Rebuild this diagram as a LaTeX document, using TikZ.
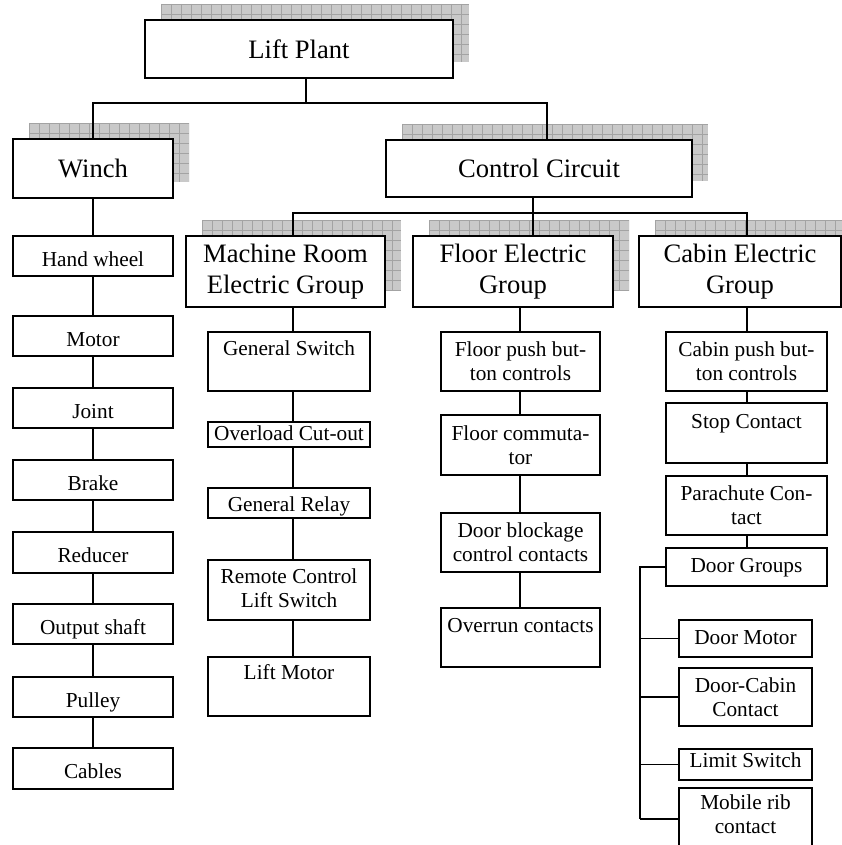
\documentclass[tikz,border=0pt]{standalone}
\usepackage{fontspec}
\setmainfont{Liberation Serif}
\usetikzlibrary{calc}

\pgfdeclarelayer{paper}
\pgfdeclarelayer{shadow}
\pgfdeclarelayer{lines}
\pgfsetlayers{paper,shadow,lines,main}

% hatched drop shadow: grey fill crossed by a 10pt grid
\newcommand\shadowgrid[4]{%
  \pgfmathsetmacro\sgxa{#1}\pgfmathsetmacro\sgya{#2}%
  \pgfmathsetmacro\sgxb{#3}\pgfmathsetmacro\sgyb{#4}%
  \pgfmathsetmacro\sgxn{\sgxa+10}\pgfmathsetmacro\sgyn{\sgya+10}%
  \begin{scope}
    \clip (\sgxa,\sgya) rectangle (\sgxb,\sgyb);
    \fill[shadowfill] (\sgxa,\sgya) rectangle (\sgxb,\sgyb);
    \foreach \gx in {\sgxa,\sgxn,...,\sgxb} \draw[shadowline] (\gx,\sgya) -- (\gx,\sgyb);
    \foreach \gy in {\sgya,\sgyn,...,\sgyb} \draw[shadowline] (\sgxa,\gy) -- (\sgxb,\gy);
  \end{scope}}

% heading box with shadow: name, x1, y1, x2, y2, text
\newcommand\headbox[6]{%
  \node[headstyle, minimum width={(#4)-(#2)}, minimum height={(#5)-(#3)}]
    (#1) at ({((#2)+(#4))/2},{((#3)+(#5))/2}) {#6};
  \begin{pgfonlayer}{shadow}\shadowgrid{#2+16}{#3-16}{#4+16}{#5-16}\end{pgfonlayer}}

% component box: name, x1, y1, x2, y2, first baseline, text
\newcommand\partbox[7]{%
  \node[partstyle, minimum width={(#4)-(#2)}, minimum height={(#5)-(#3)}]
    (#1) at ({((#2)+(#4))/2},{((#3)+(#5))/2}) {};
  \node[partlabel] (#1-label) at ({((#2)+(#4))/2},{(#6)-16.8}) {\strut #7};}

\begin{document}
\begin{tikzpicture}[x=1pt,y=-1pt,
  shadowfill/.style={fill=black!21},
  shadowline/.style={draw=black!36, line width=0.8pt},
  headstyle/.style={draw=black, line width=1.6pt, fill=white, inner sep=0pt,
    align=center, font=\fontsize{26.6}{31}\selectfont},
  partstyle/.style={draw=black, line width=1.6pt, fill=white, inner sep=0pt},
  partlabel/.style={inner sep=0pt, anchor=north, align=center,
    font=\fontsize{21.3}{24}\selectfont},
  link/.style={draw=black, line width=1.7pt}]

\begin{pgfonlayer}{paper}
  \fill[white] (0,0) rectangle (842,845);
\end{pgfonlayer}
\useasboundingbox (0,0) rectangle (842,845);
\clip (0,0) rectangle (842,845);

% top levels
\headbox{lp}{145}{20}{453}{78}{Lift Plant}
\headbox{winch}{13}{139}{173}{198}{Winch}
\headbox{cc}{386}{140}{692}{197}{Control Circuit}
\headbox{mr}{186}{236}{385}{307}{Machine Room\\Electric Group}
\headbox{feg}{413}{236}{613}{307}{Floor Electric\\Group}
\headbox{ceg}{639}{236}{841}{307}{Cabin Electric\\Group}

% winch parts
\partbox{hw}{13}{236}{173}{276}{266}{Hand wheel}
\partbox{motor}{13}{316}{173}{356}{346}{Motor}
\partbox{joint}{13}{388}{173}{428}{418}{Joint}
\partbox{brake}{13}{460}{173}{500}{490}{Brake}
\partbox{red}{13}{532}{173}{573}{562}{Reducer}
\partbox{os}{13}{604}{173}{644}{634}{Output shaft}
\partbox{pul}{13}{677}{173}{717}{707}{Pulley}
\partbox{cab}{13}{748}{173}{789}{778}{Cables}

% machine room group
\partbox{gs}{208}{332}{370}{391}{355}{General Switch}
\partbox{oc}{208}{422}{370}{447}{440}{Overload Cut-out}
\partbox{gr}{208}{488}{370}{518}{511}{General Relay}
\partbox{rc}{208}{560}{370}{620}{583}{Remote Control\\Lift Switch}
\partbox{lm}{208}{657}{370}{716}{679}{Lift Motor}

% floor group
\partbox{fp}{441}{332}{600}{391}{356}{Floor push but-\\ton controls}
\partbox{fc}{441}{415}{600}{475}{440}{Floor commuta-\\tor}
\partbox{db}{441}{513}{600}{572}{537}{Door blockage\\control contacts}
\partbox{ovr}{441}{608}{600}{667}{632}{Overrun contacts}

% cabin group
\partbox{cp}{666}{332}{827}{391}{356}{Cabin push but-\\ton controls}
\partbox{sc}{666}{403}{827}{463}{428}{Stop Contact}
\partbox{pc}{666}{476}{827}{535}{500}{Parachute Con-\\tact}
\partbox{dg}{666}{548}{827}{586}{572}{Door Groups}
\partbox{dm}{679}{620}{812}{657}{644}{Door Motor}
\partbox{dc}{679}{668}{812}{726}{692}{Door-Cabin\\Contact}
\partbox{ls}{679}{749}{812}{780}{767}{Limit Switch}
\partbox{mrib}{679}{788}{812}{850}{809}{Mobile rib\\contact}

\begin{pgfonlayer}{lines}
  \coordinate (top) at (306,103);
  \coordinate (ccin) at (547,0);
  \coordinate (bus) at (533,213);
  \coordinate (xm) at (293,0);
  \coordinate (xf) at (520,0);
  \coordinate (xc) at (747,0);
  \coordinate (xb) at (640,0);

  \draw[link] (lp.south -| top) -- (top);
  \draw[link] (winch.north) |- (top) -| (cc.north -| ccin);
  \draw[link] (cc.south -| bus) -- (bus);
  \draw[link] (mr.north -| xm) |- (bus) -| (ceg.north -| xc);
  \draw[link] (bus) -- (feg.north -| bus);

  \foreach \a/\b in {winch/hw, hw/motor, motor/joint, joint/brake, brake/red,
                     red/os, os/pul, pul/cab}
    \draw[link] (\a.south) -- (\b.north);
  \foreach \a/\b in {mr/gs, gs/oc, oc/gr, gr/rc, rc/lm}
    \draw[link] (\a.south -| xm) -- (\b.north -| xm);
  \foreach \a/\b in {feg/fp, fp/fc, fc/db, db/ovr}
    \draw[link] (\a.south -| xf) -- (\b.north -| xf);
  \foreach \a/\b in {ceg/cp, cp/sc, sc/pc, pc/dg}
    \draw[link] (\a.south -| xc) -- (\b.north -| xc);

  \draw[link] (dg.west) -| (xb |- mrib.west);
  \foreach \b in {dm, dc, ls, mrib}
    \draw[link] (xb |- \b.west) -- (\b.west);
\end{pgfonlayer}
\end{tikzpicture}
\end{document}
